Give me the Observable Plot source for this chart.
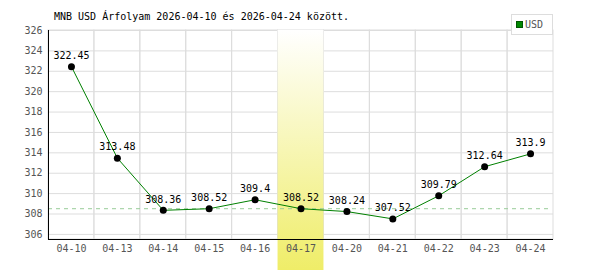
<!DOCTYPE html>
<html>
<head>
<meta charset="utf-8">
<script src="https://cdn.jsdelivr.net/npm/d3@7"></script>
<script src="https://cdn.jsdelivr.net/npm/@observablehq/plot@0.6"></script>
<style>
  html, body { margin: 0; padding: 0; background: #fff; }
  #wrap { position: relative; width: 600px; height: 270px; font-family: "DejaVu Sans Mono", monospace; }
  #title { position: absolute; left: 54px; top: 11px; font-size: 10px; color: #000; white-space: pre; }
  #legend { position: absolute; left: 511px; top: 14px; width: 40px; height: 19px; border: 1px solid #ddd; background: #fff; box-sizing: content-box; }
  #legend .sw { position: absolute; left: 4px; top: 6px; width: 5px; height: 5px; background: #080; border: 1px solid #050; }
  #legend .lb { position: absolute; left: 13px; top: 4px; font-size: 10px; color: #555; }
</style>
</head>
<body>
<div id="wrap"></div>
<script>
const dates = ["04-10","04-13","04-14","04-15","04-16","04-17","04-20","04-21","04-22","04-23","04-24"];
const values = [322.45, 313.48, 308.36, 308.52, 309.4, 308.52, 308.24, 307.52, 309.79, 312.64, 313.9];
const valueLabels = ["322.45","313.48","308.36","308.52","309.4","308.52","308.24","307.52","309.79","312.64","313.9"];
const yTicks = [306, 308, 310, 312, 314, 316, 318, 320, 322, 324, 326];
const highlightDate = "04-17";
const refValue = 308.52;
const yDomain = [305.5, 326];
const titleText = "MNB USD Árfolyam 2026-04-10 és 2026-04-24 között.";
const seriesName = "USD";

const data = dates.map((d, i) => ({date: d, value: values[i], label: valueLabels[i]}));

const chart = Plot.plot({
  width: 600,
  height: 270,
  marginLeft: 48,
  marginRight: 47,
  marginTop: 30,
  marginBottom: 31,
  x: {type: "band", domain: dates, padding: 0, round: false, label: null},
  y: {domain: yDomain, ticks: yTicks, label: null},
  style: {fontFamily: "DejaVu Sans Mono", fontSize: "10px", color: "#555", background: "#fff"},
  marks: [
    Plot.gridY(yTicks, {stroke: "#ddd", strokeOpacity: 1}),
    Plot.barY(dates, {x: d => d, y1: yDomain[0], y2: yDomain[1], fill: "none", stroke: "#ddd"}),
    Plot.barY([highlightDate], {x: d => d, y1: yDomain[0], y2: yDomain[1], fill: "url(#hlgrad)", insetBottom: -31}),
    Plot.ruleY([refValue], {stroke: "#99cc99", strokeDasharray: "4,4", insetRight: 4}),
    Plot.ruleY([yDomain[0]], {stroke: "#000"}),
    Plot.frame({anchor: "left", stroke: "#000"}),
    Plot.axisX({tickSize: 0, tickPadding: 5, label: null, fill: "#555"}),
    Plot.axisY(yTicks, {tickSize: 0, tickPadding: 6, label: null, fill: "#555", tickFormat: d => String(d)}),
    Plot.line(data, {x: "date", y: "value", stroke: "#008000", strokeWidth: 1}),
    Plot.dot(data, {x: "date", y: "value", r: 3.5, fill: "#000", stroke: "none"}),
    Plot.text(data, {x: "date", y: "value", text: "label", dy: -11, fill: "#000", fontSize: 10})
  ]
});

const svg = d3.select(chart);
const defs = svg.insert("defs", ":first-child");
const grad = defs.append("linearGradient").attr("id", "hlgrad").attr("x1", 0).attr("y1", 0).attr("x2", 0).attr("y2", 1);
grad.append("stop").attr("offset", "0%").attr("stop-color", "#ffffff");
grad.append("stop").attr("offset", "100%").attr("stop-color", "#efed68");

const wrap = document.getElementById("wrap");
wrap.appendChild(chart);
const t = document.createElement("div");
t.id = "title";
t.textContent = titleText;
wrap.appendChild(t);
const lg = document.createElement("div");
lg.id = "legend";
lg.innerHTML = '<div class="sw"></div><div class="lb"></div>';
lg.querySelector(".lb").textContent = seriesName;
wrap.appendChild(lg);
</script>
</body>
</html>
